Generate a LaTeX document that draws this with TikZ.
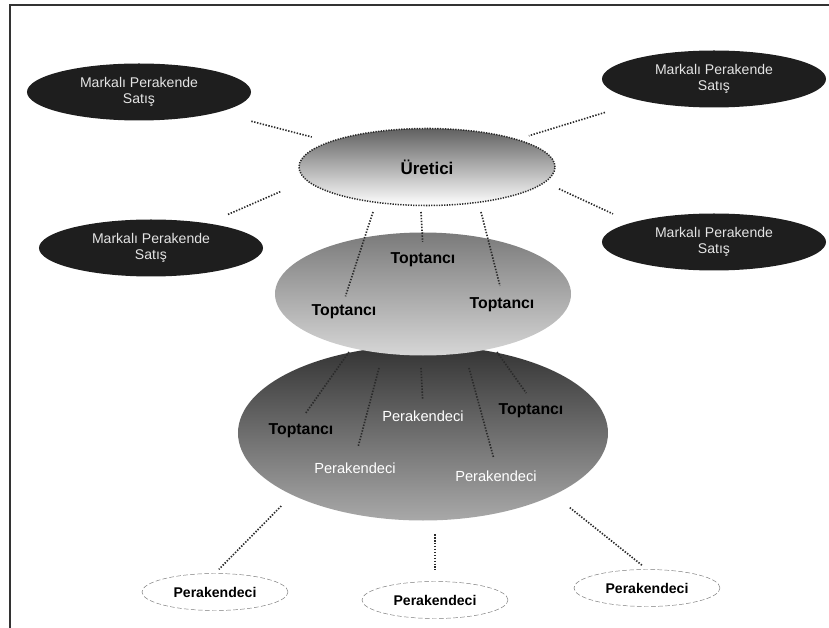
\documentclass[tikz,border=0pt]{standalone}
\usepackage{fontspec}
\setmainfont{Liberation Sans}
\usepackage{tikz}
\usetikzlibrary{shapes.geometric,calc}
\definecolor{darkoval}{HTML}{1E1E1E}
\definecolor{ovaltext}{HTML}{E4E4E4}
\definecolor{dotline}{HTML}{2A2A2A}
\definecolor{dashgray}{HTML}{7A7A7A}
\definecolor{framegray}{HTML}{333333}

\begin{document}
\begin{tikzpicture}[x=0.03cm,y=-0.03cm,
  brand/.style={ellipse,fill=darkoval,text=ovaltext,inner sep=0pt,
    minimum width=6.72cm,minimum height=1.71cm,align=center,
    font=\fontsize{12}{13}\selectfont},
  link/.style={dotline,line width=1.4pt,dash pattern=on 1.2pt off 1.3pt},
  wlabel/.style={font=\fontsize{13.5}{15}\selectfont\bfseries},
  plabel/.style={text=white,font=\fontsize{12.5}{14}\selectfont},
  retail/.style={ellipse,draw=dashgray,dash pattern=on 4pt off 2pt,fill=white,
    minimum width=4.38cm,minimum height=1.11cm,inner sep=0pt,
    font=\fontsize{12}{14}\selectfont\bfseries}]

\useasboundingbox (0,0) rectangle (829,628);
\draw[framegray,line width=1.5pt] (10,628) -- (10,5) -- (829,5);

% branded retail around the producer
\node[brand] (tl) at (139,92) {Markalı Perakende\\Satış};
\node[brand] (tr) at (714,79) {Markalı Perakende\\Satış};
\node[brand] (ll) at (151,248) {Markalı Perakende\\Satış};
\node[brand] (rl) at (714,242) {Markalı Perakende\\Satış};

\node[ellipse,draw=dotline,line width=1.3pt,dash pattern=on 1.1pt off 1.1pt,
      top color=black!62,bottom color=white,inner sep=0pt,
      minimum width=7.68cm,minimum height=2.31cm,
      font=\fontsize{14.5}{16}\selectfont\bfseries] (ure) at (427,167) {Üretici};

% wholesale and retail layers
\node[ellipse,top color=black!80,bottom color=black!34,inner sep=0pt,
      minimum width=11.1cm,minimum height=5.25cm] (big) at (423,433) {};
\node[ellipse,top color=black!52,bottom color=black!16,inner sep=0pt,
      minimum width=8.88cm,minimum height=3.69cm] (whole) at (423,294) {};

\node[wlabel] (tA) at (344,312) {Toptancı};
\node[wlabel] (tB) at (423,260) {Toptancı};
\node[wlabel] (tC) at (502,305) {Toptancı};

\node[wlabel] (bT1) at (301,431) {Toptancı};
\node[wlabel] (bT2) at (531,411) {Toptancı};
\node[plabel] (bP1) at (423,416) {Perakendeci};
\node[plabel] (bP2) at (355,468) {Perakendeci};
\node[plabel] (bP3) at (496,476) {Perakendeci};

\node[retail] (bl) at (215,592) {Perakendeci};
\node[retail] (bm) at (435,600) {Perakendeci};
\node[retail] (br) at (647,588) {Perakendeci};

% dotted links
\coordinate (rlfoot) at ($(rl)!.65!(rl.south)$);
\draw[link] ($(tl)!.39!(ure)$) -- ($(tl)!.60!(ure)$);
\draw[link] ($(tr)!.38!(ure)$) -- ($(tr)!.645!(ure)$);
\draw[link] ($(ll)!.279!(ure.north)$) -- ($(ll)!.471!(ure.north)$);
\draw[link] ($(ure.north)!.46!(rlfoot)$) -- ($(ure.north)!.648!(rlfoot)$);

\coordinate (u1) at (373,212);
\coordinate (u2) at (421,212);
\coordinate (u3) at (481,212);
\draw[link,shorten >=4pt] (u1) -- (tA.north);
\draw[link,shorten >=6pt] (u2) -- (tB.north);
\draw[link,shorten >=7pt] (u3) -- (tC.north);

\coordinate (w1) at (349,352);
\coordinate (w2) at (379,368);
\coordinate (w3) at (421,368);
\coordinate (w4) at (469,368);
\coordinate (w5) at (497,352);
\draw[link,shorten >=6pt] (w1) -- (bT1.north);
\draw[link,shorten >=11pt] (w2) -- (bP2.north);
\draw[link,shorten >=6pt] (w3) -- (bP1.north);
\draw[link,shorten >=8pt] (w4) -- (bP3.north);
\draw[link,shorten >=7pt] (w5) -- (bT2.north);

\draw[link] ($(big.south west)!.14!(bl.north)$) -- ($(big.south west)!.95!(bl.north)$);
\draw[link] ($(bm.north)+(0,-47)$) -- ($(bm.north)+(0,-11)$);
\draw[link] ($(big.south east)!.17!(br.north)$) -- ($(big.south east)!.946!(br.north)$);

\end{tikzpicture}
\end{document}
